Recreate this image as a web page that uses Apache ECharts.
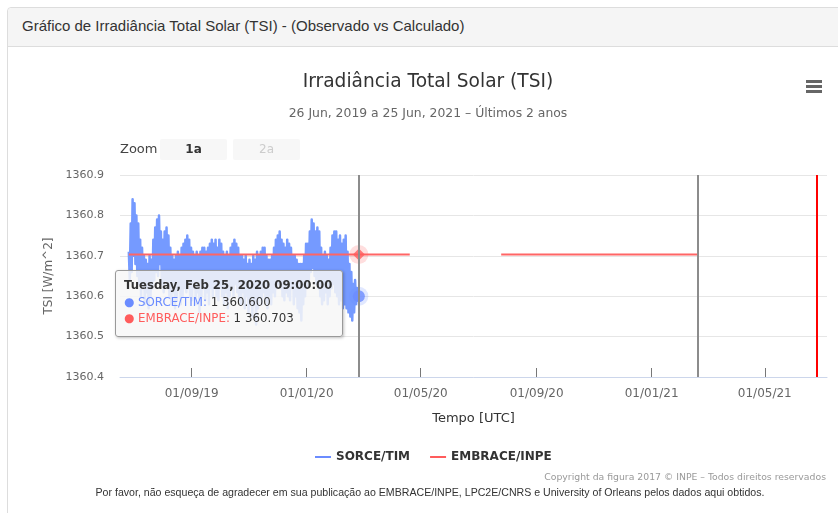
<!DOCTYPE html>
<html>
<head>
<meta charset="utf-8">
<title>Irradiância Total Solar (TSI)</title>
<script src="https://cdn.jsdelivr.net/npm/echarts@6/dist/echarts.min.js"></script>
<style>
  html, body { margin: 0; padding: 0; background: #fff; }
  .panel {
    position: absolute; left: 7px; top: 7px; width: 850px; height: 530px;
    border: 1px solid #dddddd; border-radius: 4px; box-sizing: border-box;
  }
  .panel-heading {
    height: 39px; background: #f5f5f5; border-bottom: 1px solid #dddddd;
    border-radius: 4px 4px 0 0; box-sizing: border-box;
    font: 15px "Liberation Sans", Arial, sans-serif; color: #333;
    padding: 9px 0 0 14px;
  }
  #tsiChart { position: absolute; left: 0; top: 0; width: 838px; height: 513px; }
</style>
</head>
<body>
<div class="panel">
  <div class="panel-heading">Gráfico de Irradiância Total Solar (TSI) - (Observado vs Calculado)</div>
</div>
<div id="tsiChart"></div>

<script>
// SORCE/TIM observado, um valor por dia a partir de 26/06/2019 09:00 UTC
var sorceStart = Date.UTC(2019, 5, 26, 9);
var sorceTim = [
  1360.71, 1360.64, 1360.78, 1360.66, 1360.84, 1360.70, 1360.83, 1360.68, 1360.80, 1360.65,
  1360.78, 1360.63, 1360.74, 1360.60, 1360.72, 1360.62, 1360.70, 1360.58, 1360.69, 1360.61,
  1360.68, 1360.57, 1360.70, 1360.60, 1360.69, 1360.62, 1360.74, 1360.64, 1360.77, 1360.66,
  1360.79, 1360.65, 1360.80, 1360.68, 1360.76, 1360.63, 1360.74, 1360.61, 1360.76, 1360.64,
  1360.77, 1360.62, 1360.75, 1360.60, 1360.72, 1360.58, 1360.70, 1360.61, 1360.69, 1360.57,
  1360.70, 1360.59, 1360.71, 1360.62, 1360.70, 1360.58, 1360.72, 1360.60, 1360.73, 1360.62,
  1360.74, 1360.61, 1360.75, 1360.63, 1360.74, 1360.60, 1360.72, 1360.59, 1360.71, 1360.62,
  1360.70, 1360.58, 1360.71, 1360.61, 1360.70, 1360.56, 1360.71, 1360.60, 1360.72, 1360.62,
  1360.72, 1360.59, 1360.71, 1360.61, 1360.72, 1360.58, 1360.73, 1360.62, 1360.74, 1360.60,
  1360.73, 1360.63, 1360.74, 1360.60, 1360.72, 1360.59, 1360.74, 1360.62, 1360.73, 1360.60,
  1360.71, 1360.58, 1360.70, 1360.61, 1360.71, 1360.57, 1360.70, 1360.60, 1360.72, 1360.62,
  1360.73, 1360.60, 1360.74, 1360.63, 1360.73, 1360.61, 1360.72, 1360.59, 1360.70, 1360.58,
  1360.70, 1360.61, 1360.69, 1360.57, 1360.70, 1360.60, 1360.68, 1360.56, 1360.69, 1360.59,
  1360.68, 1360.55, 1360.70, 1360.58, 1360.69, 1360.53, 1360.71, 1360.57, 1360.70, 1360.60,
  1360.71, 1360.58, 1360.72, 1360.61, 1360.72, 1360.59, 1360.70, 1360.57, 1360.69, 1360.60,
  1360.69, 1360.58, 1360.70, 1360.61, 1360.72, 1360.60, 1360.74, 1360.62, 1360.75, 1360.63,
  1360.76, 1360.62, 1360.74, 1360.60, 1360.73, 1360.59, 1360.72, 1360.61, 1360.74, 1360.60,
  1360.73, 1360.59, 1360.72, 1360.62, 1360.70, 1360.58, 1360.70, 1360.60, 1360.69, 1360.57,
  1360.68, 1360.56, 1360.68, 1360.54, 1360.68, 1360.58, 1360.70, 1360.60, 1360.73, 1360.62,
  1360.73, 1360.64, 1360.76, 1360.66, 1360.79, 1360.67, 1360.78, 1360.65, 1360.76, 1360.63,
  1360.77, 1360.62, 1360.76, 1360.60, 1360.72, 1360.58, 1360.70, 1360.59, 1360.71, 1360.61,
  1360.70, 1360.58, 1360.69, 1360.60, 1360.72, 1360.62, 1360.75, 1360.63, 1360.76, 1360.61,
  1360.76, 1360.60, 1360.74, 1360.58, 1360.75, 1360.59, 1360.73, 1360.57, 1360.74, 1360.58,
  1360.75, 1360.57, 1360.71, 1360.56, 1360.68, 1360.55, 1360.66, 1360.54, 1360.63, 1360.56,
  1360.64, 1360.58, 1360.62, 1360.59, 1360.600
];

// EMBRACE/INPE calculado (null = sem dados)
var embraceDates = [
  '2019-06-26T09:00:00Z', '2019-09-01T09:00:00Z', '2019-11-01T09:00:00Z', '2020-01-01T09:00:00Z',
  '2020-02-25T09:00:00Z', '2020-04-19T09:00:00Z', '2020-06-01T09:00:00Z', '2020-07-25T09:00:00Z',
  '2020-10-01T09:00:00Z', '2020-12-01T09:00:00Z', '2021-02-19T09:00:00Z'
];
var embraceInpe = [
  1360.703, 1360.703, 1360.703, 1360.703,
  1360.703, 1360.703, null, 1360.703,
  1360.703, 1360.703, 1360.703
];

// marcas verticais
var sorceEnd = '2020-02-25T09:00:00Z';
var embraceEnd = '2021-02-19T00:00:00Z';
var today = '2021-06-25T00:00:00Z';

// eixo x
var xMin = '2019-06-17T00:00:00Z';
var xMax = '2021-07-06T00:00:00Z';
var tickDates = ['2019-09-01', '2020-01-01', '2020-05-01', '2020-09-01', '2021-01-01', '2021-05-01'];
var tickLabels = ['01/09/19', '01/01/20', '01/05/20', '01/09/20', '01/01/21', '01/05/21'];
var yTicks = [1360.4, 1360.5, 1360.6, 1360.7, 1360.8, 1360.9];

var BLUE = '#6b8cff';
var RED = '#ff5c5c';
var FONT = '"DejaVu Sans", "Noto Sans", sans-serif';
var DAY = 86400000;

var tickTimes = tickDates.map(function (d) { return Date.parse(d + 'T00:00:00Z'); });
var sorceData = sorceTim.map(function (v, i) { return [sorceStart + i * DAY, v]; });
var embraceData = embraceDates.map(function (d, i) { return [Date.parse(d), embraceInpe[i]]; });

var hoverIdx = sorceTim.length - 1;
var hoverTime = sorceData[hoverIdx][0];
var hoverRed = embraceInpe[embraceDates.indexOf(sorceEnd)];

var weekDays = ['Sunday', 'Monday', 'Tuesday', 'Wednesday', 'Thursday', 'Friday', 'Saturday'];
var months = ['Jan', 'Feb', 'Mar', 'Apr', 'May', 'Jun', 'Jul', 'Aug', 'Sep', 'Oct', 'Nov', 'Dec'];

function pad(n) { return n < 10 ? '0' + n : '' + n; }
function fmtNum(v) {
  var s = v.toFixed(3).split('.');
  return s[0].replace(/\B(?=(\d{3})+(?!\d))/g, ' ') + '.' + s[1];
}

var chart = echarts.init(document.getElementById('tsiChart'));

var option = {
  animation: false,
  textStyle: { fontFamily: FONT },
  grid: { left: 120, right: 11, top: 175, bottom: 136, containLabel: false },
  legend: {
    data: ['SORCE/TIM', 'EMBRACE/INPE'],
    left: 310, top: 446,
    icon: 'rect', itemWidth: 16, itemHeight: 2, itemGap: 20,
    textStyle: { color: '#333', fontSize: 12, fontWeight: 'bold', fontFamily: FONT }
  },
  tooltip: {
    trigger: 'axis',
    triggerOn: 'none',
    alwaysShowContent: true,
    transitionDuration: 0,
    position: [115, 270],
    backgroundColor: 'rgba(247,247,247,0.85)',
    borderColor: '#999',
    borderWidth: 1,
    padding: [6, 8, 9, 8],
    extraCssText: 'box-sizing:border-box;width:228px;border-radius:3px;box-shadow:1px 1px 3px rgba(0,0,0,0.25);',
    textStyle: { color: '#333', fontSize: 12, fontFamily: FONT },
    axisPointer: { type: 'line', label: { show: false }, lineStyle: { color: '#8c8c8c', width: 2, type: 'solid' } },
    formatter: function (params) {
      var t = new Date(params[0].value[0]);
      var head = weekDays[t.getUTCDay()] + ', ' + months[t.getUTCMonth()] + ' ' + t.getUTCDate() + ', ' +
        t.getUTCFullYear() + ' ' + pad(t.getUTCHours()) + ':' + pad(t.getUTCMinutes()) + ':' + pad(t.getUTCSeconds());
      var html = '<div style="font-weight:bold;font-size:11.7px;line-height:16.5px;white-space:nowrap;">' + head + '</div>';
      params.forEach(function (p) {
        if (p.seriesName !== 'SORCE/TIM' && p.seriesName !== 'EMBRACE/INPE') return;
        var c = p.seriesName === 'SORCE/TIM' ? BLUE : RED;
        html += '<div style="font-size:11.8px;line-height:16.5px;white-space:nowrap;"><span style="color:' + c + '">\u25CF ' + p.seriesName + ':</span> ' +
          fmtNum(p.value[1]) + '</div>';
      });
      return html;
    }
  },
  xAxis: {
    type: 'value',
    min: Date.parse(xMin),
    max: Date.parse(xMax),
    name: 'Tempo [UTC]',
    nameLocation: 'middle',
    nameGap: 35,
    nameTextStyle: { color: '#333', fontSize: 13, fontFamily: FONT },
    axisLine: { show: true, lineStyle: { color: '#ccd6eb', width: 1 } },
    axisTick: { show: true, inside: true, length: 9, lineStyle: { color: '#777' }, customValues: tickTimes },
    axisLabel: {
      color: '#666', fontSize: 12, margin: 11,
      customValues: tickTimes,
      formatter: function (v) {
        var i = tickTimes.indexOf(v);
        return i >= 0 ? tickLabels[i] : '';
      }
    },
    splitLine: { show: false }
  },
  yAxis: {
    type: 'value',
    min: yTicks[0],
    max: yTicks[yTicks.length - 1],
    interval: 0.1,
    name: 'TSI [W/m^2]',
    nameLocation: 'middle',
    nameRotate: 90,
    nameGap: 65,
    nameTextStyle: { color: '#666', fontSize: 12, fontFamily: FONT },
    axisLine: { show: false },
    axisTick: { show: false },
    axisLabel: { color: '#666', fontSize: 11, margin: 16, formatter: function (v) { return v.toFixed(1); } },
    splitLine: { lineStyle: { color: '#e6e6e6', width: 1 } }
  },
  series: [
    {
      name: 'SORCE/TIM',
      type: 'line',
      data: sorceData,
      symbol: 'none',
      color: BLUE,
      lineStyle: { color: BLUE, width: 2.5, join: 'round' },
      markLine: {
        silent: true,
        symbol: ['none', 'none'],
        label: { show: false },
        data: [
          { xAxis: Date.parse(sorceEnd), lineStyle: { color: '#8c8c8c', width: 2, type: 'solid' } },
          { xAxis: Date.parse(embraceEnd), lineStyle: { color: '#8c8c8c', width: 2, type: 'solid' } },
          { xAxis: Date.parse(today), lineStyle: { color: '#ff0000', width: 2, type: 'solid' } }
        ]
      }
    },
    {
      name: 'EMBRACE/INPE',
      type: 'line',
      data: embraceData,
      symbol: 'none',
      connectNulls: false,
      color: RED,
      lineStyle: { color: RED, width: 2 }
    },
    {
      name: 'halo',
      type: 'scatter',
      silent: true,
      z: 5,
      symbol: 'circle',
      symbolSize: 19,
      emphasis: { disabled: true },
      data: [
        { value: [hoverTime, sorceTim[hoverIdx]], itemStyle: { color: 'rgba(107,140,255,0.25)' } },
        { value: [hoverTime, hoverRed], itemStyle: { color: 'rgba(255,92,92,0.25)' } }
      ]
    },
    {
      name: 'marker',
      type: 'scatter',
      silent: true,
      z: 6,
      emphasis: { disabled: true },
      data: [
        { value: [hoverTime, sorceTim[hoverIdx]], symbol: 'circle', symbolSize: 12, itemStyle: { color: BLUE } },
        { value: [hoverTime, hoverRed], symbol: 'diamond', symbolSize: 12, itemStyle: { color: RED } }
      ]
    }
  ],
  graphic: [
    { type: 'text', style: { text: 'Irradiância Total Solar (TSI)', x: 428, y: 82, textAlign: 'center', textVerticalAlign: 'middle', font: '18.6px ' + FONT, fill: '#333' } },
    { type: 'text', style: { text: '26 Jun, 2019 a 25 Jun, 2021 – Últimos 2 anos', x: 428, y: 114, textAlign: 'center', textVerticalAlign: 'middle', font: '12.4px ' + FONT, fill: '#666' } },
    { type: 'rect', shape: { x: 806, y: 80, width: 16, height: 3 }, style: { fill: '#666' } },
    { type: 'rect', shape: { x: 806, y: 85, width: 16, height: 3 }, style: { fill: '#666' } },
    { type: 'rect', shape: { x: 806, y: 90, width: 16, height: 3 }, style: { fill: '#666' } },
    { type: 'text', style: { text: 'Zoom', x: 120, y: 150, textVerticalAlign: 'middle', font: '13px ' + FONT, fill: '#444' } },
    { type: 'rect', shape: { x: 160, y: 139, width: 67, height: 21, r: 2 }, style: { fill: '#f7f7f7' } },
    { type: 'text', style: { text: '1a', x: 193.5, y: 150, textAlign: 'center', textVerticalAlign: 'middle', font: 'bold 12px ' + FONT, fill: '#333' } },
    { type: 'rect', shape: { x: 233, y: 139, width: 67, height: 21, r: 2 }, style: { fill: '#f7f7f7' } },
    { type: 'text', style: { text: '2a', x: 266.5, y: 150, textAlign: 'center', textVerticalAlign: 'middle', font: '12px ' + FONT, fill: '#cccccc' } },
    { type: 'text', style: { text: 'Copyright da figura 2017 © INPE – Todos direitos reservados', x: 826, y: 478, textAlign: 'right', textVerticalAlign: 'middle', font: '9.3px ' + FONT, fill: '#999' } },
    { type: 'text', style: { text: 'Por favor, não esqueça de agradecer em sua publicação ao EMBRACE/INPE, LPC2E/CNRS e University of Orleans pelos dados aqui obtidos.', x: 430, y: 493, textAlign: 'center', textVerticalAlign: 'middle', font: '10.6px "Liberation Sans", Arial, sans-serif', fill: '#333' } }
  ]
};

chart.setOption(option);
chart.dispatchAction({ type: 'showTip', seriesIndex: 0, dataIndex: hoverIdx });
window.onresize = chart.resize;
</script>
</body>
</html>
